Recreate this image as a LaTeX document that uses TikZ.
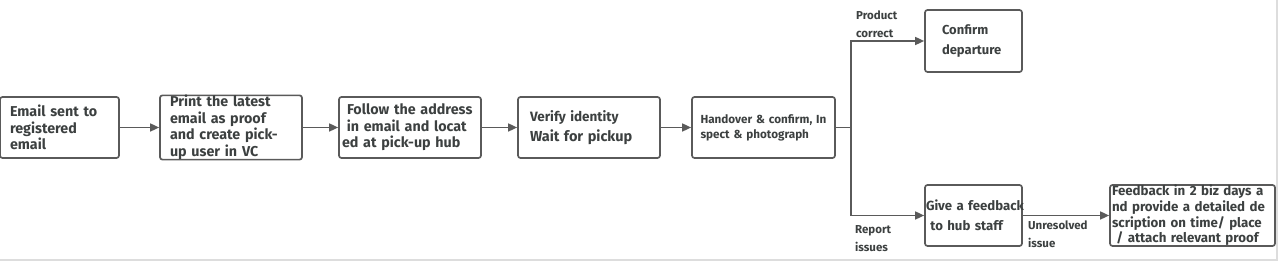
\documentclass[tikz,border=0pt]{standalone}
\usepackage{fontspec}
\setmainfont{Fira Sans}
\usetikzlibrary{arrows.meta}
\definecolor{boxline}{HTML}{5A5A5A}
\definecolor{txt}{HTML}{3C4040}
\definecolor{edge}{HTML}{DDDDDD}

\begin{document}
\begin{tikzpicture} [x=1pt,y=-1pt,
  stepbox/.style={draw=boxline, line width=1.7pt, rounded corners=2.5pt,
    minimum height=61pt, inner sep=0pt, text=txt, align=left,
    font=\bfseries\fontsize{14.3}{16.5}\selectfont},
  flow/.style={draw=boxline, line width=1.6pt, -{Triangle[length=9pt,width=8pt]}},
  tag/.style={text=txt, align=left, anchor=west, inner sep=0pt,
    font=\bfseries\fontsize{11.5}{18}\selectfont}]

\useasboundingbox (0,0) rectangle (1278,261);
\draw [edge, line width=1.5pt] (0,260) -- (1277,260) -- (1277,0);

%\draw [step=100pt, dotted] (0,0) grid (1278,261);

\node [stepbox, minimum width=119pt, text width=99pt] (sent) at (59.5,127.5)
  {Email sent to\\registered\\email};
\node [stepbox, minimum width=142pt, text width=122pt] (print) at (231,127.5)
  {Print the latest\\email as proof\\and create pick-\\up user in VC};
\node [stepbox, minimum width=142pt, text width=136pt] (follow) at (410,127.5)
  {\hspace{5pt}Follow the address\\\ in email and locat\\ed at pick-up hub};
\node [stepbox, minimum width=142pt, text width=118pt,
  font=\bfseries\fontsize{13.5}{20}\selectfont] (verify) at (589,127.5)
  {Verify identity\\{\fontsize{14.5}{20}\selectfont Wait for pickup}};
\node [stepbox, minimum width=143pt, text width=126pt,
  font=\bfseries\fontsize{11.7}{15}\selectfont] (hand) at (763.5,127.5)
  {Handover \& confirm, In\\spect \& photograph};
\node [stepbox, minimum width=97pt, minimum height=62pt, text width=63pt,
  font=\bfseries\fontsize{13}{20}\selectfont] (depart) at (973.5,41)
  {Confirm\\departure};
\node [stepbox, minimum width=97pt, text width=95pt,
  font=\bfseries\fontsize{13.2}{20}\selectfont] (give) at (973.5,215.5)
  {\mbox{Give a feedback}\\\mbox{\ to hub staff}};
\node [stepbox, minimum width=165pt, text width=161pt,
  font=\bfseries\fontsize{13.3}{15.7}\selectfont] (proof) at (1192.5,215.5)
  {Feedback in 2 biz days a\\nd provide a detailed de\\scription on time/ place\\\ / attach relevant proof};

\draw [flow] (sent) -- (print);
\draw [flow] (print) -- (follow);
\draw [flow] (follow) -- (verify);
\draw [flow] (verify) -- (hand);

\coordinate (split) at (851,127.5);
\draw [boxline, line width=1.6pt] (hand.east) -- (split);
\draw [flow] (split) |- (depart.west);
\draw [flow] (split) |- (give.west);
\draw [flow] (give) -- (proof);

\node [tag] (ok) at (856,24) {Product\\correct};
\node [tag] (bad) at (855,238.5) {Report\\issues};
\node [tag] (open) at (1028,234.5) {Unresolved\\issue};

\end{tikzpicture}
\end{document}
